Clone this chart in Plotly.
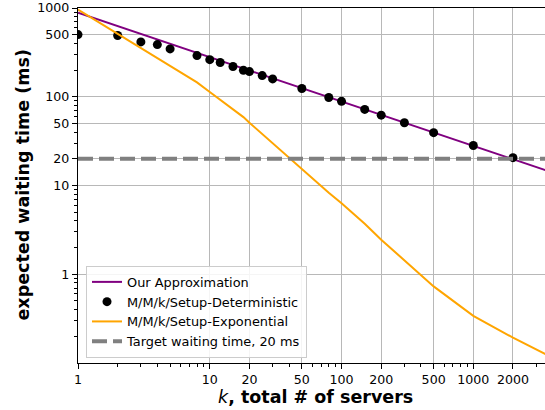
import numpy as np
import plotly.graph_objects as go

# Number of servers at which each curve is evaluated
k_curve = [1, 2, 3, 4, 5, 8, 10, 12, 15, 18, 20, 25, 30, 50, 80, 100,
           150, 200, 300, 500, 1000, 2000, 4000]
# Our approximation of the expected waiting time (ms)
approx_ms = [883, 624, 510, 441, 395, 312, 279, 255, 228, 208, 197, 177,
             161, 125, 99, 88, 72, 62.4, 51, 39.5, 27.9, 19.7, 14.0]
# M/M/k/Setup with exponential setup times (ms)
expo_ms = [960, 515, 358, 275, 225, 145, 113, 92, 72, 59, 51, 38, 29.5,
           15.2, 8.3, 6.3, 3.7, 2.45, 1.44, 0.73, 0.34, 0.193, 0.115]

# M/M/k/Setup with deterministic setup times (ms)
k_det = [1, 2, 3, 4, 5, 8, 10, 12, 15, 18, 20, 25, 30, 50, 80, 100, 150,
         200, 300, 500, 1000, 2000]
det_ms = [502, 490, 415, 387, 346, 291, 262, 243, 219, 199, 192, 173, 159,
          124, 98, 88.7, 72, 62, 51, 39.4, 28.2, 20.6]

# Target waiting time (ms)
target_ms = 20

x_ticks = [1, 10, 20, 50, 100, 200, 500, 1000, 2000]
y_ticks = [1, 10, 20, 50, 100, 500, 1000]

x_min, x_max = 1, 3500
y_min, y_max = 0.1, 1000

FONT = "DejaVu Sans"
W, H = 545, 410
L, R, T, B = 78, 0, 8, 47

def minor_vals(lo_exp, hi_exp, majors):
    vals = []
    for e in range(lo_exp, hi_exp + 1):
        for m in range(2, 10):
            v = m * 10.0 ** e
            if all(abs(v - t) > 1e-9 * v for t in majors):
                vals.append(v)
    return vals

fig = go.Figure()

fig.add_trace(go.Scatter(
    x=k_curve, y=approx_ms, mode="lines", name="Our Approximation",
    line=dict(color="#800080", width=2)))
fig.add_trace(go.Scatter(
    x=k_det, y=det_ms, mode="markers", name="M/M/k/Setup-Deterministic",
    marker=dict(color="black", size=9)))
fig.add_trace(go.Scatter(
    x=k_curve, y=expo_ms, mode="lines", name="M/M/k/Setup-Exponential",
    line=dict(color="#FFA500", width=2)))
fig.add_trace(go.Scatter(
    x=[x_min, 5000], y=[target_ms, target_ms], mode="lines",
    name="Target waiting time, 20 ms",
    line=dict(color="#808080", width=4, dash="15px,6px")))

axis_common = dict(
    type="log",
    showline=True, linecolor="black", linewidth=1.3,
    ticks="outside", ticklen=5, tickwidth=1.2, tickcolor="black",
    showgrid=True, gridcolor="#b8b8b8", gridwidth=1,
    zeroline=False,
    tickfont=dict(family=FONT, size=12.6, color="black"),
)

fig.update_xaxes(
    **axis_common,
    range=[np.log10(x_min), np.log10(x_max)],
    tickmode="array", tickvals=x_ticks, ticktext=[str(v) for v in x_ticks],
    mirror=True,
    minor=dict(tickmode="array", tickvals=minor_vals(0, 3, x_ticks),
               ticks="outside", ticklen=2.5, tickcolor="black", showgrid=False),
)
fig.update_yaxes(
    **axis_common,
    range=[np.log10(y_min), np.log10(y_max)],
    tickmode="array", tickvals=y_ticks, ticktext=[str(v) for v in y_ticks],
    mirror=False,
    minor=dict(tickmode="array", tickvals=minor_vals(-1, 2, y_ticks),
               ticks="outside", ticklen=2.5, tickcolor="black", showgrid=False),
)

plot_w = W - L - R
plot_h = H - T - B
fig.update_layout(
    width=W, height=H,
    margin=dict(l=L, r=R, t=T, b=B, pad=0),
    paper_bgcolor="white", plot_bgcolor="white",
    font=dict(family=FONT, size=12.6, color="black"),
    showlegend=True,
    legend=dict(
        x=(86 - L) / plot_w, y=(362 - 357) / plot_h,
        xanchor="left", yanchor="bottom",
        bgcolor="rgba(255,255,255,0.85)", bordercolor="#cccccc", borderwidth=1,
        font=dict(family=FONT, size=12.9, color="black"),
        tracegroupgap=0, itemwidth=30,
    ),
    annotations=[
        dict(text="<i>k</i><b>, total # of servers</b>",
             xref="paper", yref="paper",
             x=(315 - L) / plot_w, y=-(397 - (H - B)) / plot_h,
             xanchor="center", yanchor="middle", showarrow=False,
             font=dict(family=FONT, size=17.5, color="black")),
        dict(text="<b>expected waiting time (ms)</b>",
             xref="paper", yref="paper",
             x=-(L - 22) / plot_w, y=0.5 + (185.5 - (T + plot_h / 2)) / -plot_h,
             xanchor="center", yanchor="middle", showarrow=False, textangle=-90,
             font=dict(family=FONT, size=17.5, color="black")),
    ],
)

fig.write_html("out.html")
